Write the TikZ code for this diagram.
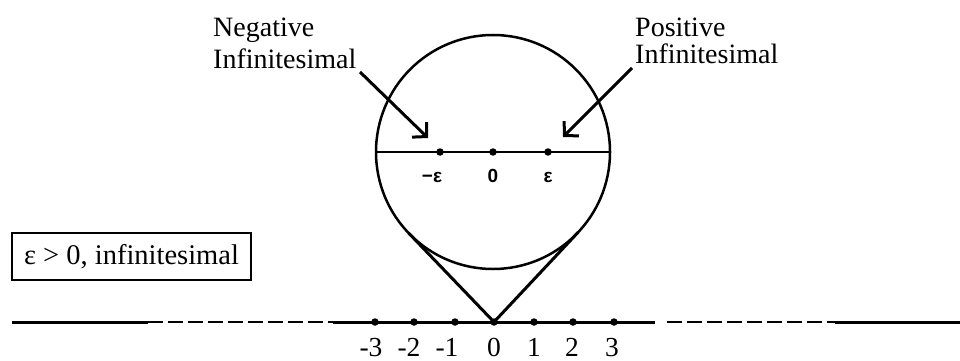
\documentclass[tikz,border=0pt]{standalone}
\usepackage{fontspec}
\setmainfont{Liberation Serif}
\newfontfamily\sansf{Liberation Sans}
\usetikzlibrary{calc,arrows.meta}
\begin{document}
\begin{tikzpicture}[x=1pt,y=-1pt,
  dotn/.style={circle,fill=black,inner sep=0pt,minimum size=7.5pt},
  serif/.style={font=\fontsize{28}{32}\selectfont},
  sanslab/.style={font=\sansf\bfseries\fontsize{19}{22}\selectfont,anchor=base,inner sep=0pt},
  axlab/.style={font=\fontsize{27.5}{32}\selectfont,anchor=base,inner sep=0pt},
  thickline/.style={line width=3pt},
  dashline/.style={line width=1.6pt,dash pattern=on 15pt off 5pt},
  pointer/.style={line width=3pt,-{Straight Barb[length=10pt,width=21pt]}}
]
\useasboundingbox (0,0) rectangle (960,361);
% big circle
\node[circle,draw,line width=2.5pt,minimum size=234pt,inner sep=0pt,outer sep=0pt] (C) at (493,152) {};
% chord
\draw[line width=2.2pt] (C.west) -- (C.east);
% dots on chord
\node[dotn] (me) at (440,152) {};
\node[dotn] (z0) at (493,152) {};
\node[dotn] (pe) at (548,152) {};
\node[sanslab] (lme) at (432,182) {−ε};
\node[sanslab] (lz0) at (493,182) {0};
\node[sanslab] (lpe) at (548,182) {ε};
% axis
\coordinate (L0) at (12,322);
\coordinate (L1) at (148,322);
\coordinate (M0) at (333,322);
\coordinate (M1) at (655,322);
\coordinate (R0) at (667,322);
\coordinate (R1) at (835,322);
\coordinate (R2) at (960,322);
\draw[thickline] (L0) -- (L1);
\draw[dashline] (L1) -- (M0);
\draw[thickline] (M0) -- (M1);
\draw[dashline] (R0) -- (R1);
\draw[thickline] (R1) -- (R2);
\node[dotn] (d-3) at (375,322) {};
\node[dotn] (d-2) at (414,322) {};
\node[dotn] (d-1) at (455,322) {};
\node[dotn] (d0) at (494,322) {};
\node[dotn] (d1) at (534,322) {};
\node[dotn] (d2) at (573,322) {};
\node[dotn] (d3) at (614,322) {};
\node[axlab] (a-3) at (371,356.5) {-3};
\node[axlab] (a-2) at (409,356.5) {-2};
\node[axlab] (a-1) at (447,356.5) {-1};
\node[axlab] (a0) at (494,356.5) {0};
\node[axlab] (a1) at (534,356.5) {1};
\node[axlab] (a2) at (572,356.5) {2};
\node[axlab] (a3) at (612,356.5) {3};
% tangent lines
\coordinate (O) at (494,322);
\draw[thickline,line join=miter] (tangent cs:node=C,point={(O)},solution=1) -- (O) -- (tangent cs:node=C,point={(O)},solution=2);
% labels with arrows
\node[serif,align=left,anchor=north west,inner sep=0pt] (neg) at (213,18) {Negative\\Infinitesimal};
\node[serif,align=left,anchor=north west,inner sep=0pt,font=\fontsize{28}{26.5}\selectfont] (pos) at (635,18) {Positive\\Infinitesimal};
\coordinate (negs) at (360,72);
\coordinate (negt) at (428,138);
\coordinate (poss) at (632,68);
\coordinate (post) at (563,137);
\draw[pointer] (negs) -- (negt);
\draw[pointer] (poss) -- (post);
% box
\node[draw,line width=1.5pt,minimum width=239pt,minimum height=47pt,inner sep=0pt,font=\fontsize{28.5}{32}\selectfont] (box) at (131.5,256.5) {ε > 0, infinitesimal};
\end{tikzpicture}
\end{document}
